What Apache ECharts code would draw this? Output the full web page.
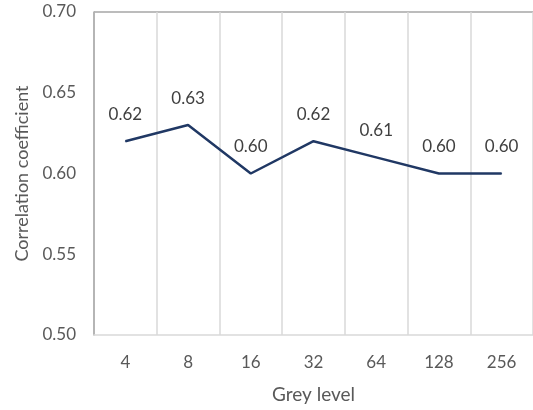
<!DOCTYPE html>
<html>
<head>
<meta charset="utf-8">
<script src="https://cdn.jsdelivr.net/npm/echarts@6/dist/echarts.min.js"></script>
<style>
  html, body { margin: 0; padding: 0; background: #fff; }
  #chart { width: 533px; height: 410px; }
</style>
</head>
<body>
<div id="chart"></div>
<script>
const greyLevels = ["4", "8", "16", "32", "64", "128", "256"];
const correlation = [0.62, 0.63, 0.60, 0.62, 0.61, 0.60, 0.60];

const font = "Lato";
const chart = echarts.init(document.getElementById("chart"));

chart.setOption({
  animation: false,
  grid: { left: 94, top: 12, width: 442, bottom: 75 },
  xAxis: {
    type: "category",
    data: greyLevels,
    boundaryGap: true,
    name: "Grey level",
    nameLocation: "middle",
    nameGap: 50,
    nameTextStyle: { fontFamily: font, fontSize: 19, color: "#595959" },
    axisLine: { lineStyle: { color: "#d9d9d9", width: 1.5 } },
    axisTick: { show: false },
    axisLabel: { fontFamily: font, fontSize: 17, color: "#595959", margin: 19 },
    splitLine: { show: true, lineStyle: { color: "#d9d9d9", width: 1.5 } },
  },
  yAxis: {
    type: "value",
    min: 0.5,
    max: 0.7,
    interval: 0.05,
    name: "Correlation coefficient",
    nameLocation: "middle",
    nameGap: 61,
    nameTextStyle: { fontFamily: font, fontSize: 18, color: "#595959" },
    axisLine: { show: true, lineStyle: { color: "#a6a6a6", width: 1.5 } },
    axisTick: { show: false },
    axisLabel: {
      fontFamily: font,
      fontSize: 17,
      color: "#595959",
      margin: 18,
      formatter: (v) => v.toFixed(2),
    },
    splitLine: {
      show: true,
      lineStyle: {
        color: ["transparent", "transparent", "transparent", "transparent", "#a6a6a6"],
        width: 1.5,
      },
    },
  },
  series: [
    {
      type: "line",
      data: correlation,
      symbol: "circle",
      symbolSize: 1,
      showSymbol: true,
      itemStyle: { color: "#203864" },
      lineStyle: { color: "#203864", width: 2.5 },
      label: {
        show: true,
        position: "top",
        distance: 18,
        fontFamily: font,
        fontSize: 17,
        color: "#404040",
        formatter: (p) => p.value.toFixed(2),
      },
    },
  ],
});
</script>
</body>
</html>
